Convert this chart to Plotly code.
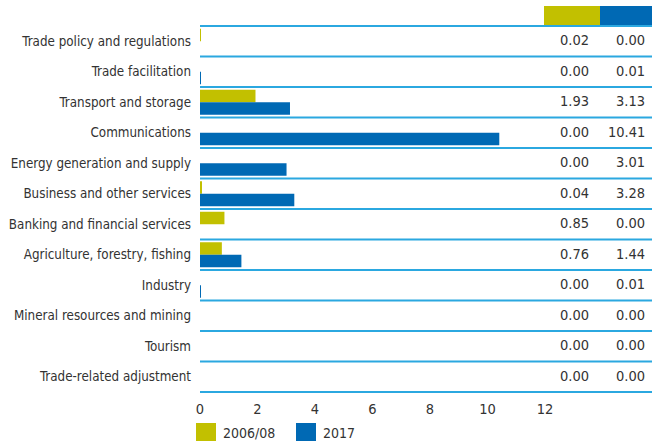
import plotly.graph_objects as go

categories = [
    "Trade policy and regulations",
    "Trade facilitation",
    "Transport and storage",
    "Communications",
    "Energy generation and supply",
    "Business and other services",
    "Banking and financial services",
    "Agriculture, forestry, fishing",
    "Industry",
    "Mineral resources and mining",
    "Tourism",
    "Trade-related adjustment",
]
series_names = ["2006/08", "2017"]
values_2006 = [0.02, 0.00, 1.93, 0.00, 0.00, 0.04, 0.85, 0.76, 0.00, 0.00, 0.00, 0.00]
values_2017 = [0.00, 0.01, 3.13, 10.41, 3.01, 3.28, 0.00, 1.44, 0.01, 0.00, 0.00, 0.00]
x_ticks = [0, 2, 4, 6, 8, 10, 12]

OLIVE = "#c2c000"
BLUE = "#0069b4"
LINE = "#2ba8e0"
TEXT = "#333333"
FONT = "DejaVu Sans Condensed, sans-serif"
FS = 13
FSN = 14.5

W, H = 652, 441
L, R, T, B = 200, 107, 25, 48
pw = W - L - R
ph = H - T - B


def px2x(px):
    return (px - L) / pw


def py2y(py):
    return (H - B - py) / ph


fig = go.Figure()
fig.add_trace(go.Bar(y=categories, x=values_2006, orientation="h", name=series_names[0],
                     marker=dict(color=OLIVE, line=dict(width=0))))
fig.add_trace(go.Bar(y=categories, x=values_2017, orientation="h", name=series_names[1],
                     marker=dict(color=BLUE, line=dict(width=0))))

shapes = []
for i in range(len(categories) + 1):
    shapes.append(dict(type="line", xref="paper", yref="y", x0=0, x1=px2x(W),
                       y0=i - 0.5, y1=i - 0.5, line=dict(color=LINE, width=2)))
shapes.append(dict(type="rect", xref="paper", yref="paper", x0=px2x(544), x1=px2x(600),
                   y0=py2y(25), y1=py2y(6), fillcolor=OLIVE, line=dict(width=0)))
shapes.append(dict(type="rect", xref="paper", yref="paper", x0=px2x(600), x1=px2x(652),
                   y0=py2y(25), y1=py2y(6), fillcolor=BLUE, line=dict(width=0)))
shapes.append(dict(type="rect", xref="paper", yref="paper", x0=px2x(196), x1=px2x(216),
                   y0=py2y(441), y1=py2y(423), fillcolor=OLIVE, line=dict(width=0)))
shapes.append(dict(type="rect", xref="paper", yref="paper", x0=px2x(296), x1=px2x(316),
                   y0=py2y(441), y1=py2y(423), fillcolor=BLUE, line=dict(width=0)))

annotations = []
for i, c in enumerate(categories):
    annotations.append(dict(xref="paper", yref="y", x=px2x(591), y=c, text=f"{values_2006[i]:.2f}",
                            xanchor="right", yanchor="middle", showarrow=False, yshift=1,
                            font=dict(size=FSN, color=TEXT, family=FONT)))
    annotations.append(dict(xref="paper", yref="y", x=px2x(647), y=c, text=f"{values_2017[i]:.2f}",
                            xanchor="right", yanchor="middle", showarrow=False, yshift=1,
                            font=dict(size=FSN, color=TEXT, family=FONT)))
annotations.append(dict(xref="paper", yref="paper", x=px2x(221), y=py2y(433), text=series_names[0],
                        xanchor="left", yanchor="middle", showarrow=False,
                        font=dict(size=14, color=TEXT, family=FONT)))
annotations.append(dict(xref="paper", yref="paper", x=px2x(321), y=py2y(433), text=series_names[1],
                        xanchor="left", yanchor="middle", showarrow=False,
                        font=dict(size=14, color=TEXT, family=FONT)))

fig.update_layout(
    width=W, height=H,
    margin=dict(l=L, r=R, t=T, b=B, autoexpand=False),
    paper_bgcolor="white", plot_bgcolor="white",
    barmode="group", bargap=0.18, bargroupgap=0.0,
    showlegend=False,
    font=dict(family=FONT, size=FS, color=TEXT),
    shapes=shapes, annotations=annotations,
    xaxis=dict(range=[0, 12], tickvals=x_ticks, ticktext=[str(v) for v in x_ticks],
               showgrid=False, zeroline=False, showline=False, ticks="", automargin=False,
               ticklabelstandoff=5,
               tickfont=dict(size=FSN, color=TEXT, family=FONT)),
    yaxis=dict(categoryorder="array", categoryarray=categories, autorange="reversed",
               showgrid=False, zeroline=False, showline=False, ticks="", automargin=False,
               ticklabelstandoff=8,
               tickfont=dict(size=13.3, color=TEXT, family=FONT)),
)

fig.write_html("out.html", config={"displayModeBar": False},
               post_script="document.body.style.margin='0';document.body.style.overflow='hidden';")
